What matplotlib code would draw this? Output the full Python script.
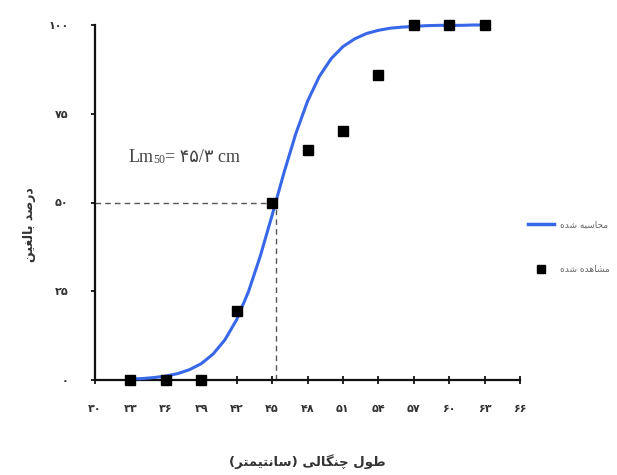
import matplotlib
matplotlib.use("Agg")
import matplotlib.pyplot as plt
from matplotlib.lines import Line2D

# ---------------- data ----------------
obs_x = [33, 36, 39, 42, 45, 48, 51, 54, 57, 60, 63]
obs_y = [0, 0, 0, 19.4, 50, 64.8, 70.1, 85.9, 100, 100, 100]

curve_x = [33, 34, 35, 36, 37, 38, 39, 40, 41, 42, 43, 44, 45, 46, 47, 48,
           49, 50, 51, 52, 53, 54, 55, 56, 57, 58, 59, 60, 61, 62, 63]
curve_y = [0.3, 0.4, 0.7, 1.1, 1.8, 2.9, 4.6, 7.3, 11.3, 17.0, 24.9, 34.9,
           46.4, 58.3, 69.3, 78.5, 85.5, 90.5, 93.9, 96.1, 97.6, 98.5, 99.1,
           99.4, 99.6, 99.8, 99.9, 99.9, 99.9, 100, 100]

lm50 = 45.3
x_ticks = [30, 33, 36, 39, 42, 45, 48, 51, 54, 57, 60, 63, 66]
x_tick_labels = ["۳۰", "۳۳", "۳۶", "۳۹", "۴۲", "۴۵", "۴۸", "۵۱", "۵۴", "۵۷", "۶۰", "۶۳", "۶۶"]
y_ticks = [0, 25, 50, 75, 100]
y_tick_labels = ["۰", "۲۵", "۵۰", "۷۵", "۱۰۰"]

x_label = "طول چنگالی (سانتیمتر)"
y_label = "درصد بالغین"
legend_calc = "محاسبه شده"
legend_obs = "مشاهده شده"

# ---------------- minimal Persian shaping (RTL) for display ----------------
FORMS = {
    "ا": ("\uFE8D", "\uFE8E"), "د": ("\uFEA9", "\uFEAA"), "ر": ("\uFEAD", "\uFEAE"),
    "و": ("\uFEED", "\uFEEE"),
    "ب": ("\uFE8F", "\uFE90", "\uFE91", "\uFE92"), "ت": ("\uFE95", "\uFE96", "\uFE97", "\uFE98"),
    "ح": ("\uFEA1", "\uFEA2", "\uFEA3", "\uFEA4"), "س": ("\uFEB1", "\uFEB2", "\uFEB3", "\uFEB4"),
    "ش": ("\uFEB5", "\uFEB6", "\uFEB7", "\uFEB8"), "ص": ("\uFEB9", "\uFEBA", "\uFEBB", "\uFEBC"),
    "ط": ("\uFEC1", "\uFEC2", "\uFEC3", "\uFEC4"), "ع": ("\uFEC9", "\uFECA", "\uFECB", "\uFECC"),
    "غ": ("\uFECD", "\uFECE", "\uFECF", "\uFED0"), "ف": ("\uFED1", "\uFED2", "\uFED3", "\uFED4"),
    "ل": ("\uFEDD", "\uFEDE", "\uFEDF", "\uFEE0"), "م": ("\uFEE1", "\uFEE2", "\uFEE3", "\uFEE4"),
    "ن": ("\uFEE5", "\uFEE6", "\uFEE7", "\uFEE8"), "ه": ("\uFEE9", "\uFEEA", "\uFEEB", "\uFEEC"),
    "چ": ("\uFB7A", "\uFB7B", "\uFB7C", "\uFB7D"), "گ": ("\uFB92", "\uFB93", "\uFB94", "\uFB95"),
    "ی": ("\uFBFC", "\uFBFD", "\uFBFE", "\uFBFF"), "ک": ("\uFB8E", "\uFB8F", "\uFB90", "\uFB91"),
}
MIRROR = {"(": ")", ")": "("}


def shape(s):
    out = []
    for i, c in enumerate(s):
        f = FORMS.get(c)
        if f is None:
            out.append(c)
            continue
        prev = s[i - 1] if i > 0 else None
        nxt = s[i + 1] if i + 1 < len(s) else None
        jp = prev in FORMS and len(FORMS[prev]) == 4
        jn = len(f) == 4 and nxt in FORMS
        if jp and jn:
            out.append(f[3])
        elif jp:
            out.append(f[1])
        elif jn:
            out.append(f[2])
        else:
            out.append(f[0])
    return "".join(MIRROR.get(c, c) for c in reversed(out))


# ---------------- figure ----------------
fig = plt.figure(figsize=(6.17, 4.75), dpi=100)
ax = fig.add_axes([95 / 617, 1 - 380 / 475, (520 - 95) / 617, (380 - 25) / 475])

blue = "#3868e8"
ax.plot(curve_x, curve_y, color=blue, lw=2.2, solid_capstyle="round", zorder=3, clip_on=False)
ax.plot(obs_x, obs_y, ls="none", marker="s", ms=7, color="black", zorder=4, clip_on=False)

# dashed guide lines at Lm50
ax.plot([x_ticks[0], lm50], [50, 50], ls=(0, (4, 3)), color="#555555", lw=1.0, zorder=2)
ax.plot([lm50, lm50], [0, 50], ls=(0, (4, 3)), color="#555555", lw=1.0, zorder=2)

ax.set_xlim(30, 66)
ax.set_ylim(0, 100)
for s in ["top", "right"]:
    ax.spines[s].set_visible(False)
for s in ["left", "bottom"]:
    ax.spines[s].set_linewidth(1.6)
    ax.spines[s].set_color("#111111")

ax.set_xticks(x_ticks)
ax.set_xticklabels(x_tick_labels, fontsize=8, fontweight="bold", family=["DejaVu Sans"], color="#333333")
ax.set_yticks(y_ticks)
ax.set_yticklabels(y_tick_labels, fontsize=8, fontweight="bold", family=["DejaVu Sans"], color="#333333")
ax.tick_params(axis="x", direction="inout", length=6, width=1.2, pad=14)
ax.tick_params(axis="y", direction="out", length=3, width=1.2, pad=16)

ax.set_xlabel(shape(x_label), fontsize=9.5, fontweight="bold", family=["DejaVu Sans"], color="#333333",
              va="center")
ax.xaxis.set_label_coords(0.5, -(462 - 380) / 355, transform=ax.transAxes)
ax.set_ylabel(shape(y_label), fontsize=9, fontweight="bold", family=["DejaVu Sans"], color="#333333",
              rotation=90, va="center")
ax.yaxis.set_label_coords(-(95 - 29) / 425, (380 - 225) / 355, transform=ax.transAxes)

# Lm50 annotation
t1 = ax.text(32.8, 61.5, "Lm", fontsize=13, family=["Liberation Serif", "DejaVu Sans"],
             va="baseline", ha="left", color="#444444")
t2 = ax.annotate("50", xy=(1, 0), xycoords=t1, fontsize=8.5,
                 family=["Liberation Serif", "DejaVu Sans"], va="bottom", ha="left",
                 color="#444444")
t3 = ax.annotate("= ۴۵/۳ cm", xy=(1, 0), xycoords=(t2, t1), fontsize=13,
                 family=["Liberation Serif", "DejaVu Sans"], va="bottom", ha="left",
                 color="#444444")

handles = [Line2D([], [], color=blue, lw=2.5),
           Line2D([], [], ls="none", marker="s", ms=6, color="black")]
fig.legend(handles, [shape(legend_calc), shape(legend_obs)], loc="upper left",
           bbox_to_anchor=(528 / 617, 1 - 220 / 475), frameon=False,
           prop={"family": ["DejaVu Sans"], "size": 6.5}, labelcolor="#666666",
           handlelength=2.9, handletextpad=0.7, labelspacing=4.0, numpoints=1,
           borderaxespad=0, borderpad=0)

fig.savefig("out.png", dpi=100)
